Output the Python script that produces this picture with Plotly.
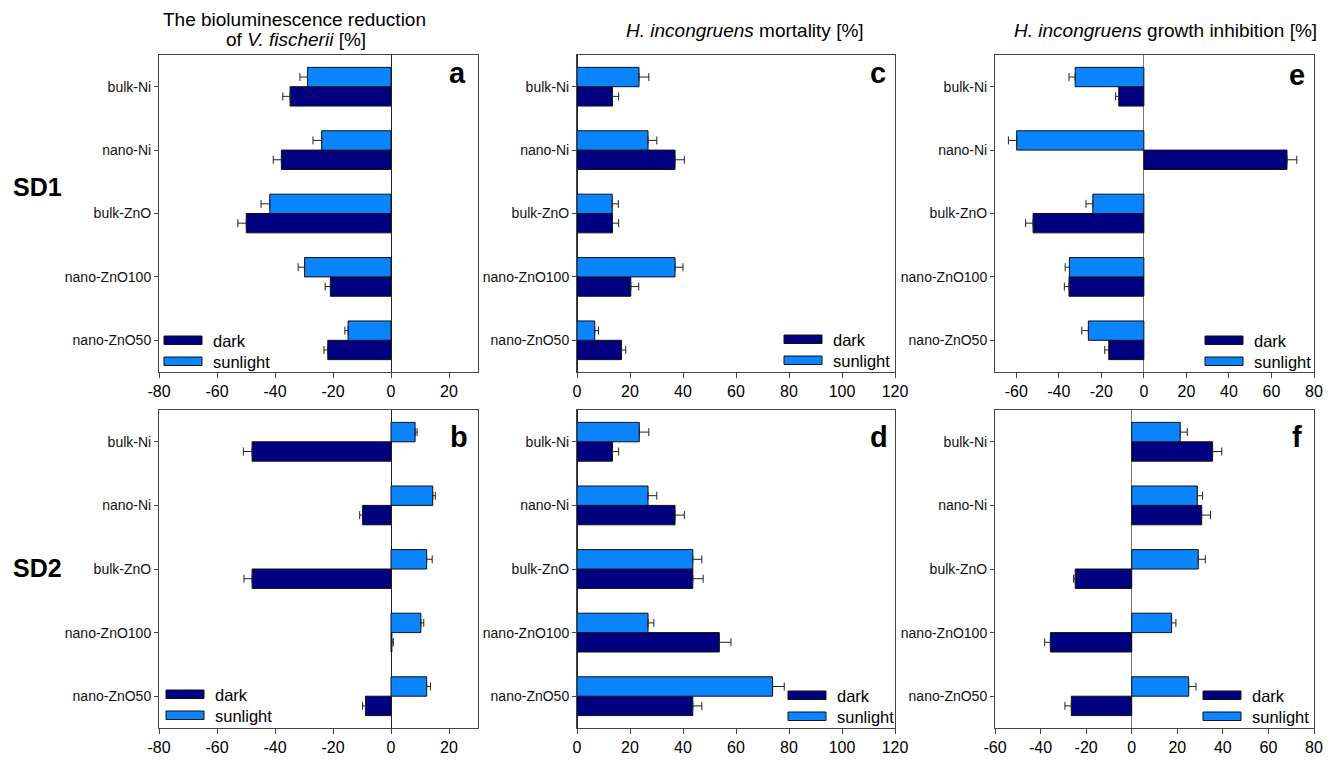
import plotly.graph_objects as go
from plotly.subplots import make_subplots

# Substances, listed top to bottom
categories = ["bulk-Ni", "nano-Ni", "bulk-ZnO", "nano-ZnO100", "nano-ZnO50"]

# a: bioluminescence reduction of V. fischerii, SD1
a_dark = [-34.8, -37.8, -49.9, -20.9, -21.8]
a_dark_err = [2.5, 2.8, 2.9, 1.8, 1.3]
a_sun = [-28.8, -23.9, -41.8, -29.8, -14.8]
a_sun_err = [2.6, 3.0, 3.0, 2.2, 1.1]

# b: bioluminescence reduction of V. fischerii, SD2
b_dark = [-47.9, -9.8, -47.9, 0.3, -8.8]
b_dark_err = [3.0, 1.0, 2.8, 0.5, 1.0]
b_sun = [8.3, 14.4, 12.3, 10.3, 12.3]
b_sun_err = [0.7, 0.9, 1.9, 1.0, 1.3]

# c: H. incongruens mortality, SD1
c_dark = [13.4, 37.0, 13.4, 20.3, 16.8]
c_dark_err = [2.3, 3.5, 2.3, 3.0, 1.6]
c_sun = [23.4, 26.8, 13.3, 37.0, 6.7]
c_sun_err = [3.7, 3.3, 2.3, 3.0, 1.4]

# d: H. incongruens mortality, SD2
d_dark = [13.4, 37.0, 43.7, 53.7, 43.7]
d_dark_err = [2.3, 3.5, 3.9, 4.4, 3.4]
d_sun = [23.5, 26.8, 43.7, 26.8, 73.8]
d_sun_err = [3.6, 3.3, 3.4, 2.2, 4.4]

# e: H. incongruens growth inhibition, SD1
e_dark = [-11.8, 67.3, -52.1, -35.2, -16.5]
e_dark_err = [1.5, 4.6, 3.5, 2.2, 1.9]
e_sun = [-32.3, -59.8, -24.0, -35.0, -26.1]
e_sun_err = [2.9, 3.9, 3.2, 2.0, 3.1]

# f: H. incongruens growth inhibition, SD2
f_dark = [35.5, 30.7, -24.8, -35.7, -26.5]
f_dark_err = [4.0, 3.9, 0.7, 2.5, 2.8]
f_sun = [21.3, 28.8, 29.2, 17.5, 25.0]
f_sun_err = [3.1, 2.3, 3.1, 1.9, 3.2]

series_names = ["dark", "sunlight"]

# x-axis ranges and tick values per panel
x_ranges = {"a": [-80, 30], "b": [-80, 30], "c": [0, 120], "d": [0, 120],
            "e": [-70, 80], "f": [-60, 80]}
x_ticks = {"a": [-80, -60, -40, -20, 0, 20], "b": [-80, -60, -40, -20, 0, 20],
           "c": [0, 20, 40, 60, 80, 100, 120], "d": [0, 20, 40, 60, 80, 100, 120],
           "e": [-60, -40, -20, 0, 20, 40, 60, 80],
           "f": [-60, -40, -20, 0, 20, 40, 60, 80]}

W, H = 1334, 760
FONT = "Liberation Sans, Arial, Helvetica, sans-serif"
DARK = "#000080"
SUN = "#0a84ff"


def px_x(p):
    return p / W


def px_y(p):
    return 1 - p / H


panels = {
    "a": dict(row=1, col=1, dark=a_dark, de=a_dark_err, sun=a_sun, se=a_sun_err),
    "b": dict(row=2, col=1, dark=b_dark, de=b_dark_err, sun=b_sun, se=b_sun_err),
    "c": dict(row=1, col=2, dark=c_dark, de=c_dark_err, sun=c_sun, se=c_sun_err),
    "d": dict(row=2, col=2, dark=d_dark, de=d_dark_err, sun=d_sun, se=d_sun_err),
    "e": dict(row=1, col=3, dark=e_dark, de=e_dark_err, sun=e_sun, se=e_sun_err),
    "f": dict(row=2, col=3, dark=f_dark, de=f_dark_err, sun=f_sun, se=f_sun_err),
}

# pixel boxes of the plot areas
col_px = {1: (159, 478), 2: (577, 895), 3: (995, 1314)}
row_px = {1: (55, 372), 2: (410, 728)}

fig = make_subplots(rows=2, cols=3)


def outward_err(vals, errs):
    plus = [e if v >= 0 else 0 for v, e in zip(vals, errs)]
    minus = [e if v < 0 else 0 for v, e in zip(vals, errs)]
    return plus, minus


for key, p in panels.items():
    for name, vals, errs, color in [("dark", p["dark"], p["de"], DARK),
                                    ("sunlight", p["sun"], p["se"], SUN)]:
        plus, minus = outward_err(vals, errs)
        fig.add_trace(go.Bar(
            x=vals, y=categories, orientation="h", name=name,
            marker=dict(color=color, line=dict(color="#111111", width=1)),
            error_x=dict(type="data", symmetric=False, array=plus,
                         arrayminus=minus, color="#222222", thickness=1, width=4),
            showlegend=False,
        ), row=p["row"], col=p["col"])

    x0, x1 = col_px[p["col"]]
    y0, y1 = row_px[p["row"]]
    zcol = "#777777" if key in ("e", "f") else "#222222"
    fig.update_xaxes(
        range=x_ranges[key], domain=[px_x(x0), px_x(x1)],
        tickmode="array", tickvals=x_ticks[key],
        ticktext=[str(v) for v in x_ticks[key]],
        showline=True, linecolor="#444444", linewidth=1, mirror=True,
        ticks="outside", ticklen=5, tickcolor="#444444",
        showgrid=False, zeroline=True, zerolinecolor=zcol, zerolinewidth=1,
        tickfont=dict(family=FONT, size=16, color="#000000"),
        automargin=False,
        row=p["row"], col=p["col"])
    fig.update_yaxes(
        type="category", categoryorder="array",
        categoryarray=list(reversed(categories)), range=[-0.5, 4.5],
        domain=[px_y(y1), px_y(y0)],
        showline=True, linecolor="#444444", linewidth=1, mirror=True,
        ticks="outside", ticklen=4, tickcolor="#444444", showgrid=False,
        tickfont=dict(family=FONT, size=14, color="#111111"),
        automargin=False,
        row=p["row"], col=p["col"])

shapes = []
annotations = []

# legends drawn inside each panel
legend_pos = {"a": (164, 336), "b": (166, 690), "c": (784, 335),
              "d": (788, 691), "e": (1205, 336), "f": (1203, 691)}
for key, (lx, ly) in legend_pos.items():
    for i, (name, color) in enumerate(zip(series_names, [DARK, SUN])):
        top = ly + i * 21
        shapes.append(dict(type="rect", xref="paper", yref="paper",
                           x0=px_x(lx), x1=px_x(lx + 38),
                           y0=px_y(top + 8.5), y1=px_y(top),
                           fillcolor=color, line=dict(color="#111111", width=1)))
        annotations.append(dict(x=px_x(lx + 47), y=px_y(top + 4.5),
                                xref="paper", yref="paper", text=name,
                                showarrow=False, xanchor="left", yanchor="middle",
                                font=dict(family=FONT, size=16.5, color="#000000")))

# panel letters
letter_pos = {"a": (457, 73), "c": (878, 73), "e": (1297, 75),
              "b": (459, 437), "d": (879, 437), "f": (1297, 437)}
for key, (lx, ly) in letter_pos.items():
    annotations.append(dict(x=px_x(lx), y=px_y(ly), xref="paper", yref="paper",
                            text=f"<b>{key}</b>", showarrow=False,
                            xanchor="center", yanchor="middle",
                            font=dict(family=FONT, size=29, color="#000000")))

# row labels
for text, ly in [("SD1", 187), ("SD2", 568)]:
    annotations.append(dict(x=px_x(37), y=px_y(ly), xref="paper", yref="paper",
                            text=f"<b>{text}</b>", showarrow=False,
                            xanchor="center", yanchor="middle",
                            font=dict(family=FONT, size=25, color="#000000")))

# column titles
title_font = dict(family=FONT, size=19, color="#000000")
annotations += [
    dict(x=px_x(294), y=px_y(20), text="The bioluminescence reduction"),
    dict(x=px_x(296), y=px_y(40), text="of <i>V. fischerii</i> [%]"),
    dict(x=px_x(745), y=px_y(31), text="<i>H. incongruens</i> mortality [%]"),
    dict(x=px_x(1165), y=px_y(31), text="<i>H. incongruens</i> growth inhibition [%]"),
]
for ann in annotations[-4:]:
    ann.update(xref="paper", yref="paper", showarrow=False,
               xanchor="center", yanchor="middle", font=title_font)

fig.update_layout(
    width=W, height=H, margin=dict(l=0, r=0, t=0, b=0, autoexpand=False),
    paper_bgcolor="white", plot_bgcolor="white",
    barmode="group", bargap=0.39, bargroupgap=0,
    shapes=shapes, annotations=annotations, showlegend=False,
)

fig.write_html("out.html")
